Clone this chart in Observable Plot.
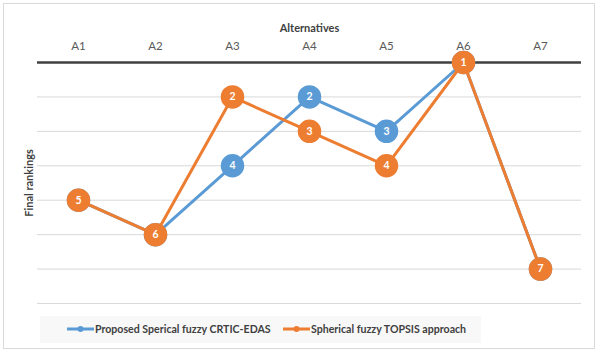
<!DOCTYPE html>
<html><head><meta charset="utf-8">
<script src="https://cdn.jsdelivr.net/npm/d3@7"></script>
<script src="https://cdn.jsdelivr.net/npm/@observablehq/plot@0.6"></script>
<style>
body{margin:0;background:#fff;font-family:Lato,"Open Sans",sans-serif;}
#frame{position:absolute;left:3px;top:3px;width:592px;height:346px;border:1px solid #d9d9d9;box-sizing:border-box;}
#chart{position:absolute;left:0;top:0;}
#legend{position:absolute;left:40px;top:316px;width:441px;height:27px;background:#f8f8f8;font-size:10.6px;font-weight:bold;color:#404040;}
.item{display:flex;align-items:center;position:absolute;top:6px;}
</style></head><body>
<div id="frame"></div>
<div id="chart"></div>
<div id="legend"></div>
<script>
const categories = ["A1","A2","A3","A4","A5","A6","A7"];
const proposedRanks = [5,6,4,2,3,1,7];
const topsisRanks = [5,6,2,3,4,1,7];
const seriesNames = ["Proposed Sperical fuzzy CRTIC-EDAS","Spherical fuzzy TOPSIS approach"];
const colors = ["#5B9BD5","#ED7D31"];
const gridRanks = [2,3,4,5,6,7,8];

const blue = categories.map((c,i)=>({c, r: proposedRanks[i]}));
const orange = categories.map((c,i)=>({c, r: topsisRanks[i]}));

const chart = Plot.plot({
  width: 600, height: 310,
  marginLeft: 37, marginRight: 19, marginTop: 62, marginBottom: 7,
  style: {fontFamily: "Lato, 'Open Sans', sans-serif", background: "transparent"},
  x: {type: "point", domain: categories, padding: 0.5},
  y: {domain: [1, 8], reverse: true, axis: null},
  marks: [
    Plot.ruleY(gridRanks, {stroke: "#d9d9d9", strokeWidth: 1}),
    Plot.ruleY([1], {stroke: "#404040", strokeWidth: 2.5}),
    Plot.axisX({anchor: "top", tickSize: 0, tickPadding: 13, fontSize: 11.5, fill: "#595959", label: null}),
    Plot.text(["Alternatives"], {frameAnchor: "top", dy: -38, fontSize: 11, fontWeight: "bold", fill: "#404040"}),
    Plot.text(["Final rankings"], {frameAnchor: "left", dx: -8, rotate: -90, textAnchor: "middle", fontSize: 11, fontWeight: "bold", fill: "#404040"}),
    Plot.line(blue, {x: "c", y: "r", stroke: colors[0], strokeWidth: 3}),
    Plot.dot(blue, {x: "c", y: "r", r: 11, fill: colors[0], stroke: colors[0]}),
    Plot.text(blue, {x: "c", y: "r", text: "r", fill: "white", fontWeight: "bold", fontSize: 10.5}),
    Plot.line(orange, {x: "c", y: "r", stroke: colors[1], strokeWidth: 3}),
    Plot.dot(orange, {x: "c", y: "r", r: 11, fill: colors[1], stroke: colors[1]}),
    Plot.text(orange, {x: "c", y: "r", text: "r", fill: "white", fontWeight: "bold", fontSize: 10.5})
  ]
});
document.getElementById("chart").appendChild(chart);

const legend = document.getElementById("legend");
const lefts = [27, 243];
seriesNames.forEach((name, i) => {
  const it = document.createElement("div");
  it.className = "item";
  it.style.left = lefts[i] + "px";
  it.innerHTML = `<svg width="27" height="14"><line x1="0" y1="7" x2="27" y2="7" stroke="${colors[i]}" stroke-width="3"/><circle cx="13.5" cy="7" r="3" fill="${colors[i]}"/></svg><span style="margin-left:1px">${name}</span>`;
  legend.appendChild(it);
});
</script>
</body></html>
